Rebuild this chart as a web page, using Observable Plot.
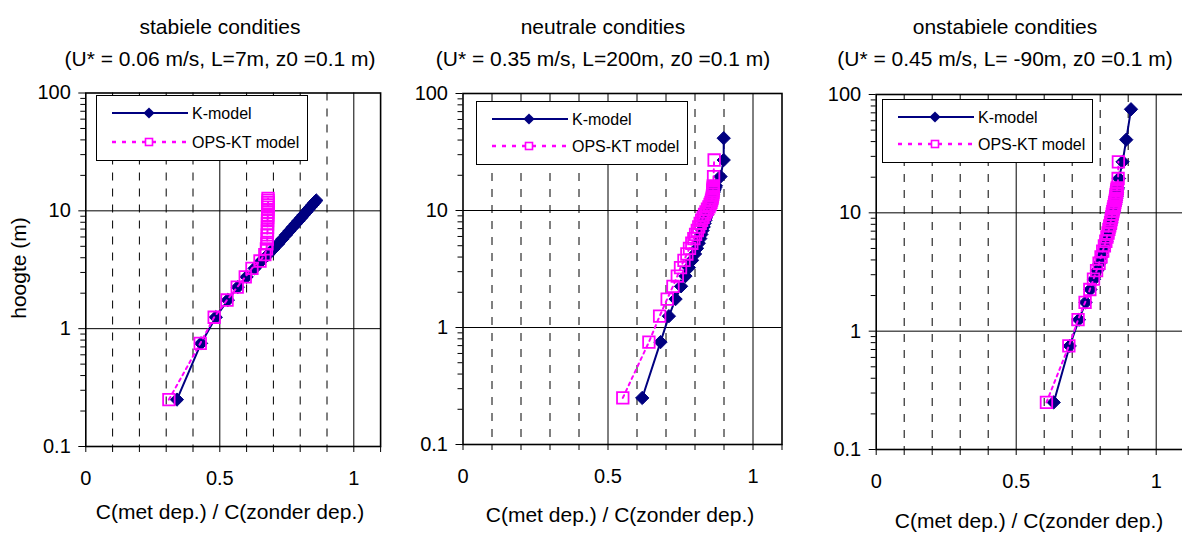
<!DOCTYPE html>
<html><head><meta charset="utf-8">
<script src="https://cdn.jsdelivr.net/npm/d3@7"></script>
<script src="https://cdn.jsdelivr.net/npm/@observablehq/plot@0.6"></script>
<style>
html,body{margin:0;padding:0;background:#fff;}
body{width:1182px;height:534px;overflow:hidden;position:relative;font-family:"Liberation Sans",Arial,sans-serif;}
.panel{position:absolute;top:0;width:400px;height:534px;}
.panel svg{max-width:none !important;display:block;}
.t{position:absolute;white-space:nowrap;transform:translate(-50%,-50%);font-size:21px;color:#000;line-height:1;}
.legend{position:absolute;background:#fff;border:1px solid #000;box-sizing:border-box;}
</style></head><body>
<script>
// ---------- data ----------
const seriesNames = ["K-model", "OPS-KT model"];
const titles = ["stabiele condities", "neutrale condities", "onstabiele condities"];
const subtitles = ["(U* = 0.06 m/s, L=7m, z0 =0.1 m)", "(U* = 0.35 m/s, L=200m, z0 =0.1 m)", "(U* = 0.45 m/s, L= -90m, z0 =0.1 m)"];
const xTitle = "C(met dep.) / C(zonder dep.)";
const yTitle = "hoogte (m)";
const xTickLabels = [0, 0.5, 1];
const xMinorTicks = [0, 0.1, 0.2, 0.3, 0.4, 0.5, 0.6, 0.7, 0.8, 0.9, 1.0, 1.1];
const xGridDashed = [0.1, 0.2, 0.3, 0.4, 0.6, 0.7, 0.8, 0.9];
const xGridSolid = [0.5, 1];
const yTickLabels = [0.1, 1, 10, 100];
const yGridSolid = [1, 10];
const yMinorTicks = [0.2,0.3,0.4,0.5,0.6,0.7,0.8,0.9,2,3,4,5,6,7,8,9,20,30,40,50,60,70,80,90];

// panel 1: stabiel
const h1K = [0.25,0.75,1.25,1.75,2.25,2.75,3.25,3.75,4.25,4.75,5.25,5.75,6.25,6.75,7.25,7.75,8.25,8.75,9.25,9.75,10.25,10.75,11.25,11.75,12.25];
const c1K = [0.34,0.43,0.485,0.53,0.567,0.60,0.63,0.655,0.68,0.70,0.718,0.733,0.747,0.76,0.772,0.783,0.794,0.804,0.813,0.822,0.83,0.838,0.846,0.853,0.86];
const h1O = [0.25,0.75,1.25,1.75,2.25,2.75,3.25,3.75,4.25,4.75,5.25,5.75,6.25,6.75,7.25,7.75,8.25,8.75,9.25,9.75,10.25,10.75,11.25,11.75,12.25,12.75];
const c1O = [0.31,0.427,0.479,0.527,0.565,0.595,0.62,0.65,0.668,0.674,0.676,0.677,0.677,0.678,0.678,0.678,0.678,0.679,0.679,0.679,0.679,0.679,0.68,0.68,0.68,0.68];

// panel 2: neutraal
const h2K = [0.25,0.75,1.25,1.75,2.25,2.75,3.25,3.75,4.25,4.75,5.25,5.75,6.25,6.75,7.25,7.75,8.25,8.75,9.25,9.75,10.25,10.75,11.25,11.75,12.25,12.75,13.25,13.75,14.25,14.75,15.25,15.75,16.25,19.5,27,41.5];
const c2K = [0.618,0.681,0.71,0.733,0.752,0.767,0.779,0.79,0.80,0.807,0.813,0.818,0.822,0.826,0.83,0.833,0.836,0.839,0.842,0.844,0.846,0.848,0.85,0.852,0.855,0.857,0.859,0.862,0.864,0.866,0.868,0.87,0.872,0.888,0.899,0.899];
const h2O = [0.25,0.75,1.25,1.75,2.25,2.75,3.25,3.75,4.25,4.75,5.25,5.75,6.25,6.75,7.25,7.75,8.25,8.75,9.25,9.75,10.25,10.75,11.25,11.75,12.25,12.75,13.25,13.75,14.25,14.75,15.25,15.75,16.25,19.5,27];
const c2O = [0.551,0.641,0.678,0.704,0.724,0.739,0.75,0.762,0.772,0.781,0.789,0.796,0.802,0.808,0.813,0.818,0.823,0.828,0.833,0.838,0.843,0.848,0.852,0.855,0.857,0.859,0.86,0.861,0.862,0.862,0.862,0.863,0.863,0.864,0.866];

// panel 3: onstabiel
const h3K = [0.25,0.75,1.25,1.75,2.25,2.75,3.25,3.75,4.25,4.75,5.25,5.75,6.25,6.75,7.25,7.75,8.25,8.75,9.25,9.75,10.25,10.75,11.25,11.75,12.25,12.75,13.25,13.75,14.25,14.75,15.25,15.75,16.25,19.5,27,41.5,75];
const c3K = [0.634,0.691,0.724,0.748,0.765,0.778,0.789,0.798,0.805,0.811,0.817,0.822,0.826,0.83,0.833,0.836,0.839,0.841,0.843,0.845,0.847,0.849,0.851,0.853,0.854,0.856,0.857,0.858,0.859,0.86,0.861,0.862,0.863,0.867,0.88,0.893,0.91];
const h3O = [0.25,0.75,1.25,1.75,2.25,2.75,3.25,3.75,4.25,4.75,5.25,5.75,6.25,6.75,7.25,7.75,8.25,8.75,9.25,9.75,10.25,10.75,11.25,11.75,12.25,12.75,13.25,13.75,14.25,14.75,15.25,15.75,16.25,19.5,27];
const c3O = [0.608,0.688,0.721,0.746,0.763,0.776,0.787,0.796,0.803,0.809,0.815,0.82,0.824,0.828,0.831,0.834,0.837,0.839,0.841,0.843,0.845,0.847,0.849,0.851,0.852,0.854,0.855,0.856,0.857,0.858,0.859,0.86,0.861,0.864,0.865];

// ---------- layout ----------
const layout = [
  {left: 0,   w: 400, ml: 85.3,  mt: 92.5, mb: 88, xw: 294.8, tx: 220,  ax: 230,  ay: 511, lg: [96, 95, 212, 66]},
  {left: 400, w: 400, ml: 62.5,  mt: 93,   mb: 90, xw: 319,   tx: 603,  ax: 620,  ay: 514, lg: [476, 101, 212, 64]},
  {left: 800, w: 400, ml: 75.7,  mt: 94,   mb: 85, xw: 308,   tx: 1005, ax: 1029, ay: 520, lg: [882, 99, 211, 64]}
];
const data = [[h1K,c1K,h1O,c1O],[h2K,c2K,h2O,c2O],[h3K,c3K,h3O,c3O]];
const NAVY = "#000080", MAG = "#ff00ff";
const fmt = d3.format("~g");

data.forEach(([hK,cK,hO,cO], i) => {
  const L = layout[i];
  const K = hK.map((h, j) => ({h, c: cK[j]}));
  const O = hO.map((h, j) => ({h, c: cO[j]}));
  const chart = Plot.plot({
    width: L.w, height: 534,
    marginLeft: L.ml, marginRight: L.w - L.ml - L.xw, marginTop: L.mt, marginBottom: L.mb,
    style: {fontFamily: "Liberation Sans, Arial, sans-serif", fontSize: "20px", background: "transparent", overflow: "visible", color: "#000", maxWidth: "none"},
    x: {domain: [0, 1.1], label: null},
    y: {type: "log", domain: [0.1, 100], label: null},
    marks: [
      Plot.ruleX(xGridDashed, {stroke: "#000", strokeWidth: 1, strokeDasharray: "8,8"}),
      Plot.ruleX(xGridSolid, {stroke: "#000", strokeWidth: 1}),
      Plot.ruleY(yGridSolid, {stroke: "#000", strokeWidth: 1}),
      Plot.frame({stroke: "#000", strokeWidth: 1.6}),
      Plot.axisY({ticks: yTickLabels, tickSize: 7, tickPadding: 8, tickFormat: fmt, label: null, fontSize: 20}),
      Plot.axisY({ticks: yMinorTicks, tickSize: 5, tickFormat: () => "", label: null}),
      Plot.axisX({ticks: xMinorTicks, tickSize: 6, tickFormat: () => "", label: null}),
      Plot.axisX({ticks: xTickLabels, tickSize: 0, tickPadding: 24, tickFormat: fmt, label: null, fontSize: 20}),
      Plot.line(K, {x: "c", y: "h", stroke: NAVY, strokeWidth: 2}),
      Plot.dot(K, {x: "c", y: "h", symbol: "diamond2", r: 6, fill: NAVY, stroke: NAVY, strokeWidth: 1}),
      Plot.line(O, {x: "c", y: "h", stroke: MAG, strokeWidth: 2, strokeDasharray: "3,4"}),
      Plot.dot(O, {x: "c", y: "h", symbol: "square", r: 6.5, fill: "none", stroke: MAG, strokeWidth: 1.8})
    ]
  });
  chart.style.maxWidth = "none";
  const wrap = document.createElement("div");
  wrap.className = "panel";
  wrap.style.left = L.left + "px";
  wrap.appendChild(chart);
  document.body.appendChild(wrap);

  const addText = (txt, x, y, extra) => {
    const d = document.createElement("div");
    d.className = "t";
    d.textContent = txt;
    d.style.left = x + "px";
    d.style.top = y + "px";
    if (extra) d.style.transform = extra;
    document.body.appendChild(d);
  };
  addText(titles[i], L.tx, 26);
  addText(subtitles[i], L.tx, 58);
  addText(xTitle, L.ax, L.ay);
  if (i === 0) addText(yTitle, 18, 268, "translate(-50%,-50%) rotate(-90deg)");

  // legend
  const [lx, ly, lw, lh] = L.lg;
  const lgd = document.createElement("div");
  lgd.className = "legend";
  Object.assign(lgd.style, {left: lx + "px", top: ly + "px", width: lw + "px", height: lh + "px"});
  const r1 = 18, r2 = lh - 19;
  lgd.innerHTML = `<svg width="${lw}" height="${lh}" style="position:absolute;left:-1px;top:-1px;font-family:'Liberation Sans',Arial,sans-serif;font-size:16px">
    <line x1="16" x2="92" y1="${r1}" y2="${r1}" stroke="${NAVY}" stroke-width="2"/>
    <path d="M53,${r1-5.6}L58.6,${r1}L53,${r1+5.6}L47.4,${r1}Z" fill="${NAVY}"/>
    <text x="96" y="${r1}" dy="0.35em">${seriesNames[0]}</text>
    <line x1="16" x2="92" y1="${r2}" y2="${r2}" stroke="${MAG}" stroke-width="2.5" stroke-dasharray="4,6"/>
    <rect x="49.5" y="${r2-3.5}" width="7" height="7" fill="#fff" stroke="${MAG}" stroke-width="1.6"/>
    <text x="96" y="${r2}" dy="0.35em">${seriesNames[1]}</text>
  </svg>`;
  document.body.appendChild(lgd);
});
</script>
</body></html>
